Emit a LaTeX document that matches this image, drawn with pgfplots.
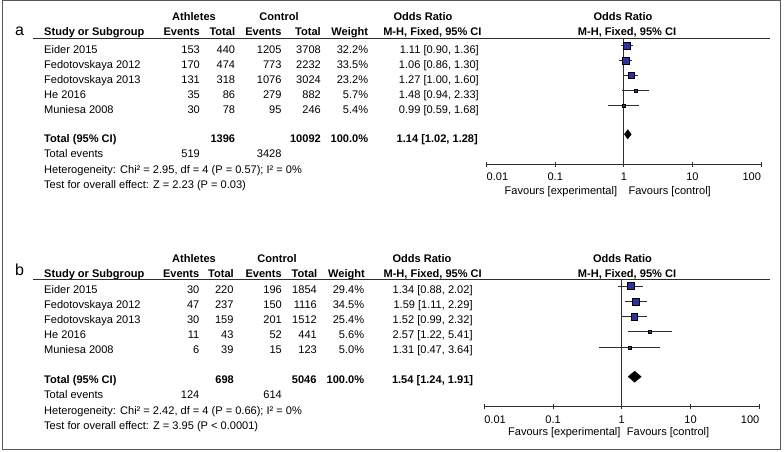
\documentclass[border=0pt]{standalone}
\usepackage{pgfplots}
\pgfplotsset{compat=1.18}
\usepackage{fontspec}
\setmainfont{Liberation Sans}
\definecolor{sqblue}{RGB}{48,48,160}
\definecolor{ln}{RGB}{45,45,45}
\begin{document}
\begin{tikzpicture}[
  every node/.style={font=\fontsize{11.05}{13}\selectfont, inner sep=0pt, text=black},
  L/.style={anchor=base west}, R/.style={anchor=base east}, C/.style={anchor=base},
  B/.style={font=\fontsize{11.05}{13}\selectfont\bfseries},
  ci/.style={ln, line width=0.9pt},
  sq/.style={only marks, mark=square*, mark options={fill=sqblue, draw=none}}]
\useasboundingbox (0pt,0pt) rectangle (784pt,-452pt);
\begin{scope}[x=1pt,y=-1pt]
\draw[black!65, line width=1pt] (2,1) rectangle (780,449);
%% ---------------- panel a ----------------
\node[font=\fontsize{16}{18}\selectfont, L] at (15,36) {a};
\node[B,C] at (194,21) {Athletes};
\node[B,C] at (279,21) {Control};
\node[B,C] at (423,21) {Odds Ratio};
\node[B,C] at (623,21) {Odds Ratio};
\node[B,L] at (44,36) {Study or Subgroup};
\node[B,R] at (200,36) {Events};
\node[B,R] at (235.3,36) {Total};
\node[B,R] at (281.7,36) {Events};
\node[B,R] at (321,36) {Total};
\node[B,R] at (368.3,36) {Weight};
\node[B,R] at (481.7,36) {M-H, Fixed, 95\% CI};
\node[B,C] at (627,36) {M-H, Fixed, 95\% CI};
\draw[ln, line width=1pt] (33,38.3) -- (770,38.3);
% rows
\foreach \y/\n/\ae/\at/\ce/\ct/\w/\o in {
  53.3/Eider 2015/153/440/1205/3708/32.2/{1.11 [0.90, 1.36]},
  68.3/Fedotovskaya 2012/170/474/773/2232/33.5/{1.06 [0.86, 1.30]},
  83.3/Fedotovskaya 2013/131/318/1076/3024/23.2/{1.27 [1.00, 1.60]},
  98.3/He 2016/35/86/279/882/5.7/{1.48 [0.94, 2.33]},
  113.3/Muniesa 2008/30/78/95/246/5.4/{0.99 [0.59, 1.68]}}{
  \node[L] at (44,\y) {\n};
  \node[R] at (200,\y) {\ae};
  \node[R] at (235.3,\y) {\at};
  \node[R] at (281.7,\y) {\ce};
  \node[R] at (321,\y) {\ct};
  \node[R] at (368.3,\y) {\w\%};
  \node[R] at (479,\y) {\o};
}
\node[B,L] at (44,142.3) {Total (95\% CI)};
\node[B,R] at (235.3,142.3) {1396};
\node[B,R] at (321,142.3) {10092};
\node[B,R] at (368.3,142.3) {100.0\%};
\node[B,R] at (478,142.3) {1.14 [1.02, 1.28]};
\node[L] at (44,157.7) {Total events};
\node[R] at (200,157.7) {519};
\node[R] at (281.7,157.7) {3428};
\node[L] at (44,173.3) {Heterogeneity: Chi² = 2.95, df = 4 (P = 0.57); I² = 0\%};
\node[L] at (44,188.3) {Test for overall effect: Z = 2.23 (P = 0.03)};
\node[R] at (617.3,194) {Favours [experimental]};
\node[L] at (628.3,194) {Favours [control]};
%% ---------------- panel b ----------------
\node[font=\fontsize{16}{18}\selectfont, L] at (15,275.5) {b};
\node[B,C] at (194,262) {Athletes};
\node[B,C] at (277,262) {Control};
\node[B,C] at (422,262) {Odds Ratio};
\node[B,C] at (622.5,262) {Odds Ratio};
\node[B,L] at (44,277.3) {Study or Subgroup};
\node[B,R] at (199.5,277.3) {Events};
\node[B,R] at (234,277.3) {Total};
\node[B,R] at (282,277.3) {Events};
\node[B,R] at (317.5,277.3) {Total};
\node[B,R] at (365,277.3) {Weight};
\node[B,R] at (482,277.3) {M-H, Fixed, 95\% CI};
\node[B,C] at (627,277.3) {M-H, Fixed, 95\% CI};
\draw[ln, line width=1pt] (33,279.3) -- (770,279.3);
\foreach \y/\n/\ae/\at/\ce/\ct/\w/\o in {
  293.5/Eider 2015/30/220/196/1854/29.4/{1.34 [0.88, 2.02]},
  308.5/Fedotovskaya 2012/47/237/150/1116/34.5/{1.59 [1.11, 2.29]},
  323.5/Fedotovskaya 2013/30/159/201/1512/25.4/{1.52 [0.99, 2.32]},
  338.5/He 2016/11/43/52/441/5.6/{2.57 [1.22, 5.41]},
  353.5/Muniesa 2008/6/39/15/123/5.0/{1.31 [0.47, 3.64]}}{
  \node[L] at (44,\y) {\n};
  \node[R] at (199.5,\y) {\ae};
  \node[R] at (233.7,\y) {\at};
  \node[R] at (282,\y) {\ce};
  \node[R] at (317,\y) {\ct};
  \node[R] at (364.3,\y) {\w\%};
  \node[R] at (472.8,\y) {\o};
}
\node[B,L] at (44,383.3) {Total (95\% CI)};
\node[B,R] at (234,383.3) {698};
\node[B,R] at (316.7,383.3) {5046};
\node[B,R] at (364.3,383.3) {100.0\%};
\node[B,R] at (473.3,383.3) {1.54 [1.24, 1.91]};
\node[L] at (44,398.5) {Total events};
\node[R] at (199.5,398.5) {124};
\node[R] at (282,398.5) {614};
\node[L] at (44,414) {Heterogeneity: Chi² = 2.42, df = 4 (P = 0.66); I² = 0\%};
\node[L] at (44,429.3) {Test for overall effect: Z = 3.95 (P < 0.0001)};
\node[R] at (620.7,435.3) {Favours [experimental]};
\node[L] at (626.7,435.3) {Favours [control]};
\end{scope}
%% axis a
\begin{axis}[at={(486.7pt,-164.3pt)}, anchor=south west, scale only axis,
  width=274.3pt, height=126pt, ymin=-164.3, ymax=-38.3,
  xmode=log, xmin=0.01, xmax=100,
  axis x line=bottom, axis y line=none,
  axis line style={-, ln, line width=1pt},
  xtick={0.01,0.1,1,10,100},
  xticklabels={\makebox[0pt][l]{0.01},0.1,1,10,\makebox[0pt][r]{100}},
  xminorticks=false, tick align=center, major tick length=5pt,
  every tick/.style={ln, line width=1pt},
  xticklabel style={anchor=base, yshift=-14pt},
  clip=false]
\addplot[ln, line width=0.9pt] coordinates {(1,-38.3) (1,-164.3)};
\addplot[ci] coordinates {(0.90,-45.5) (1.36,-45.5)};
\addplot[ci] coordinates {(0.86,-60.7) (1.30,-60.7)};
\addplot[ci] coordinates {(1.00,-75.5) (1.60,-75.5)};
\addplot[ci] coordinates {(0.94,-90.5) (2.33,-90.5)};
\addplot[ci] coordinates {(0.59,-105.5) (1.68,-105.5)};
\addplot[sq, mark size=3.32pt] coordinates {(1.11,-45.5)};
\addplot[sq, mark size=3.39pt] coordinates {(1.06,-60.7)};
\addplot[sq, mark size=2.82pt] coordinates {(1.27,-75.5)};
\addplot[sq, mark size=1.4pt] coordinates {(1.48,-90.5)};
\addplot[sq, mark size=1.36pt] coordinates {(0.99,-105.5)};
\addplot[fill=black, draw=black, line width=0.5pt] coordinates
  {(1.02,-134.3) (1.14,-129.7) (1.28,-134.3) (1.14,-138.9) (1.02,-134.3)};
\end{axis}
%% axis b
\begin{axis}[at={(484.3pt,-406.7pt)}, anchor=south west, scale only axis,
  width=275pt, height=127.4pt, ymin=-406.7, ymax=-279.3,
  xmode=log, xmin=0.01, xmax=100,
  axis x line=bottom, axis y line=none,
  axis line style={-, ln, line width=1pt},
  xtick={0.01,0.1,1,10,100},
  xticklabels={\makebox[0pt][l]{0.01},0.1,1,10,\makebox[0pt][r]{100}},
  xminorticks=false, tick align=center, major tick length=5pt,
  every tick/.style={ln, line width=1pt},
  xticklabel style={anchor=base, yshift=-14pt},
  clip=false]
\addplot[ln, line width=0.9pt] coordinates {(1,-279.3) (1,-406.7)};
\addplot[ci] coordinates {(0.88,-286) (2.02,-286)};
\addplot[ci] coordinates {(1.11,-301.7) (2.29,-301.7)};
\addplot[ci] coordinates {(0.99,-316.7) (2.32,-316.7)};
\addplot[ci] coordinates {(1.22,-331.7) (5.41,-331.7)};
\addplot[ci] coordinates {(0.47,-347.3) (3.64,-347.3)};
\addplot[sq, mark size=3.52pt] coordinates {(1.34,-286)};
\addplot[sq, mark size=3.82pt] coordinates {(1.59,-301.7)};
\addplot[sq, mark size=3.28pt] coordinates {(1.52,-316.7)};
\addplot[sq, mark size=1.54pt] coordinates {(2.57,-331.7)};
\addplot[sq, mark size=1.45pt] coordinates {(1.31,-347.3)};
\addplot[fill=black, draw=black, line width=0.5pt] coordinates
  {(1.24,-376.7) (1.54,-371.2) (1.91,-376.7) (1.54,-382.2) (1.24,-376.7)};
\end{axis}
\end{tikzpicture}
\end{document}
